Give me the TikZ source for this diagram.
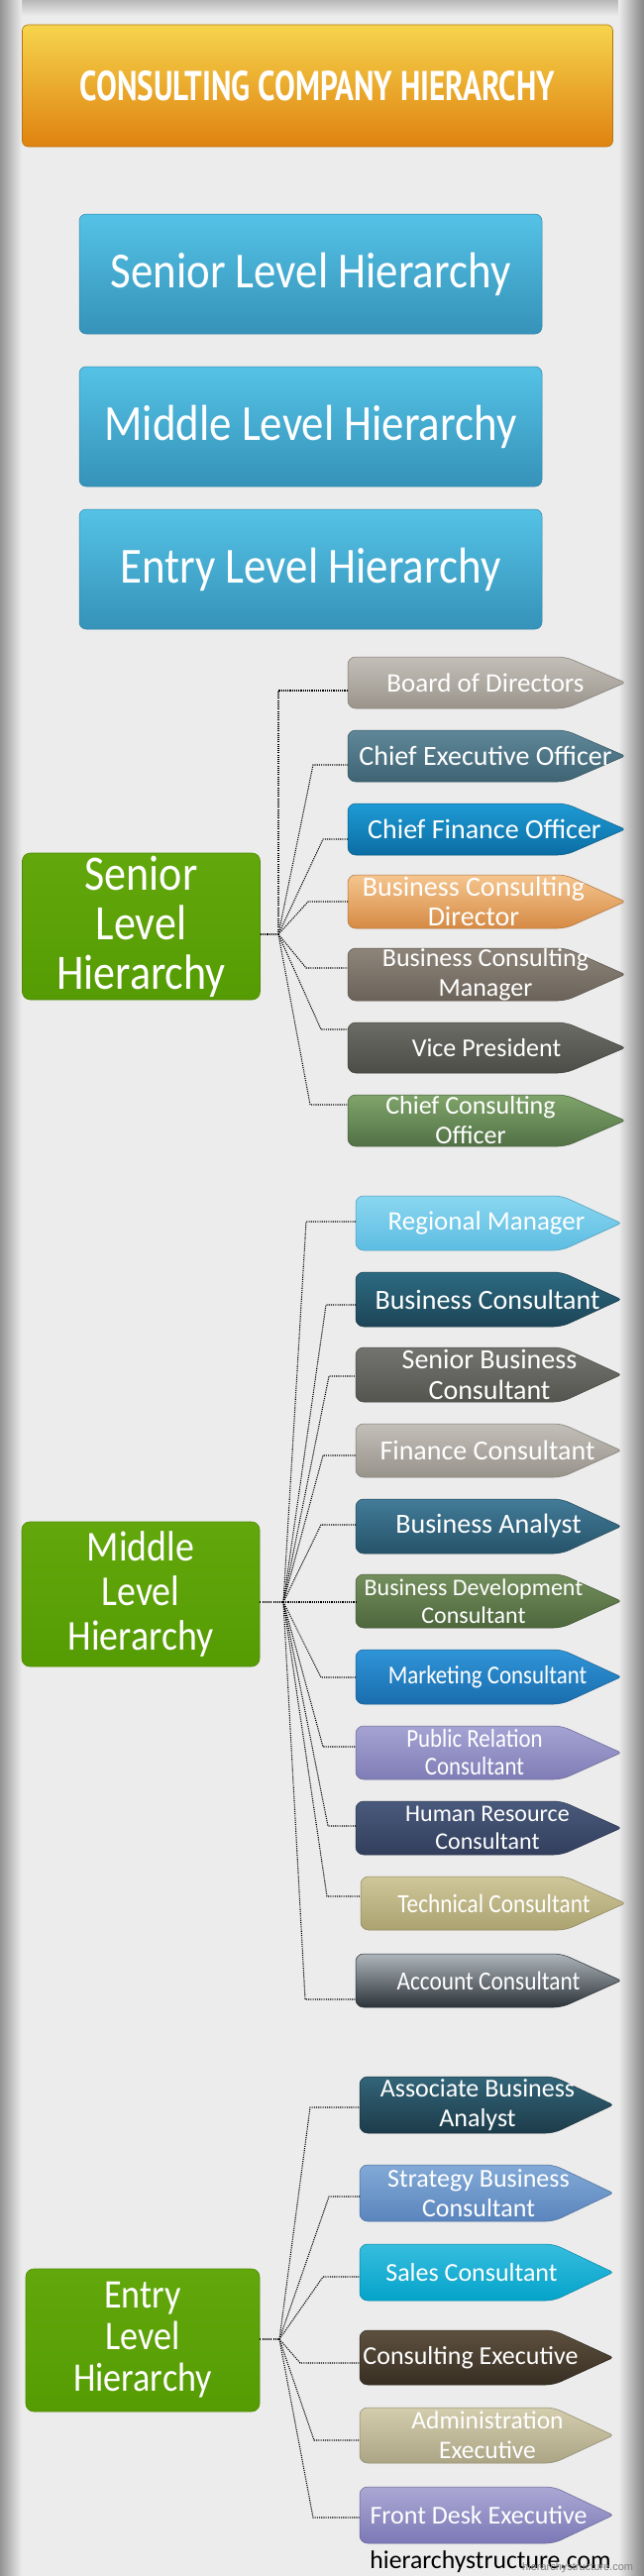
\documentclass[tikz,border=0pt]{standalone}
\usepackage{fontspec}
\usepackage{graphicx}
\setmainfont{Carlito}
\newfontfamily\condfont[FakeStretch=0.88]{Carlito}
\newfontfamily\titlefont{PT Sans}
\newfontfamily\wmfont{Liberation Sans}
\usetikzlibrary{calc}

\definecolor{bgc}{HTML}{ECECEC}
\definecolor{ttlA}{HTML}{F6D44C}\definecolor{ttlB}{HTML}{DF820F}\definecolor{ttlC}{HTML}{B57411}
\definecolor{bluA}{HTML}{54C2E6}\definecolor{bluB}{HTML}{3692B8}
\definecolor{grnA}{HTML}{62A80C}\definecolor{grnB}{HTML}{559B03}\definecolor{grnC}{HTML}{4E8A05}
% senior
\definecolor{bdA}{HTML}{C3BFB8}\definecolor{bdB}{HTML}{9A948B}
\definecolor{ceoA}{HTML}{5F8798}\definecolor{ceoB}{HTML}{3E6474}
\definecolor{cfoA}{HTML}{1E9BD5}\definecolor{cfoB}{HTML}{0B6DA3}
\definecolor{bcdA}{HTML}{F5C58E}\definecolor{bcdB}{HTML}{D68B45}
\definecolor{bcmA}{HTML}{8D857A}\definecolor{bcmB}{HTML}{6B6359}
\definecolor{vpA}{HTML}{6C6C67}\definecolor{vpB}{HTML}{4C4C48}
\definecolor{ccoA}{HTML}{7FA46A}\definecolor{ccoB}{HTML}{527146}
% middle
\definecolor{rmA}{HTML}{8AD6F0}\definecolor{rmB}{HTML}{5DBDE2}
\definecolor{bcA}{HTML}{2D6B82}\definecolor{bcB}{HTML}{1C4456}
\definecolor{sbcA}{HTML}{737370}\definecolor{sbcB}{HTML}{555550}
\definecolor{fcA}{HTML}{C2BEB8}\definecolor{fcB}{HTML}{98948C}
\definecolor{baA}{HTML}{437B98}\definecolor{baB}{HTML}{255369}
\definecolor{bdcA}{HTML}{748F5D}\definecolor{bdcB}{HTML}{4D663C}
\definecolor{mcA}{HTML}{2F95D8}\definecolor{mcB}{HTML}{1A6DAE}
\definecolor{prcA}{HTML}{A5A3D3}\definecolor{prcB}{HTML}{807CB6}
\definecolor{hrcA}{HTML}{4A5A7C}\definecolor{hrcB}{HTML}{323E5C}
\definecolor{tcA}{HTML}{CFC79A}\definecolor{tcB}{HTML}{ABA270}
\definecolor{acA}{HTML}{AEB5BB}\definecolor{acB}{HTML}{2C3339}
% entry
\definecolor{abaA}{HTML}{326478}\definecolor{abaB}{HTML}{1D3C4A}
\definecolor{esbA}{HTML}{82A9D6}\definecolor{esbB}{HTML}{5A85BD}
\definecolor{scA}{HTML}{36BDDE}\definecolor{scB}{HTML}{04A3CA}
\definecolor{ceA}{HTML}{5E503F}\definecolor{ceB}{HTML}{372E22}
\definecolor{aeA}{HTML}{D3CDAE}\definecolor{aeB}{HTML}{ABA585}
\definecolor{fdA}{HTML}{ABA8D4}\definecolor{fdB}{HTML}{7C78B6}

\newcommand\fs[2]{\fontsize{#1}{#2}\selectfont}

% #1 name, #2 left x, #3 tip x, #4 top y, #5 bottom y, #6 top colour, #7 bottom colour, #8 label options, #9 text
\newcommand\tagbox[9]{%
  \node[tagframe, minimum width={(#3-#2)*1pt}, minimum height={(#5-#4)*1pt}, anchor=north west] (#1) at (#2,#4) {};
  \shadedraw[top color=#6, bottom color=#7, draw=#7!80!black, line width=0.5pt]
    (#2,{(#4+#5)/2}) [rounded corners=8pt] -- (#2,#4) -- ({#3-60},#4)
    [rounded corners=3pt] -- (#3,{(#4+#5)/2})
    [rounded corners=8pt] -- ({#3-60},#5) -- (#2,#5) -- cycle;
  \node[lbl, #8] (#1-t) at ({(#2+#3)/2},{(#4+#5)/2}) {#9};
}
% #1 junction, #2 elbow, #3 target node
\newcommand\link[3]{\draw[dotline] (#1) -- (#2) -- (#2 -| #3.west);}

\begin{document}
\begin{tikzpicture}[x=1pt,y=-1pt,
  dotline/.style={line width=1.1pt, dash pattern=on 1.1pt off 1.1pt, draw=black},
  lvlbox/.style={rounded corners=8pt, top color=grnA, bottom color=grnB, draw=grnC, line width=0.6pt,
    text=white, align=center, inner sep=0pt, minimum width=240pt},
  bluebox/.style={rounded corners=7pt, top color=bluA, bottom color=bluB, draw=bluB!90!black, line width=0.5pt,
    text=white, inner sep=0pt, minimum width=467pt, minimum height=121pt, font=\condfont\fs{51}{55}},
  lbl/.style={text=white, align=center, inner sep=0pt},
  tagframe/.style={inner sep=0pt, outer sep=0pt}
]
\useasboundingbox (0,0) rectangle (650,2600);
% background and vignette
\fill[bgc] (0,0) rectangle (650,2600);
\shade[top color=black!28, bottom color=bgc] (0,0) rectangle (650,16);
\shade[left color=black!42, right color=bgc] (0,0) rectangle (22,2600);
\shade[left color=bgc, right color=black!48] (624,0) rectangle (650,2600);

% title
\node[rounded corners=6pt, top color=ttlA, bottom color=ttlB, draw=ttlC, line width=0.6pt,
  minimum width=596pt, minimum height=123pt, inner sep=0pt, text=white] (title) at (320.5,86.5)
  {\resizebox{479pt}{30pt}{\titlefont\bfseries CONSULTING COMPANY HIERARCHY}};

% overview boxes
\node[bluebox] (ov1) at (313.5,276.5) {Senior Level Hierarchy};
\node[bluebox] (ov2) at (313.5,430.5) {Middle Level Hierarchy};
\node[bluebox] (ov3) at (313.5,574.5) {Entry Level Hierarchy};

% level boxes
\node[lvlbox, minimum height=148pt, font=\condfont\fs{50}{50}] (sen) at (142.5,935) {Senior\\Level\\Hierarchy};
\node[lvlbox, minimum height=146pt, font=\condfont\fs{43}{45}] (mid) at (142,1609) {Middle\\Level\\Hierarchy};
\node[lvlbox, minimum width=236pt, minimum height=144pt, font=\condfont\fs{41}{42}] (ent) at (144,2362) {Entry\\Level\\Hierarchy};

% senior roles
\tagbox{s1}{351}{631}{663}{715}{bdA}{bdB}{font=\fs{27}{29}, xshift=-1pt}{Board of Directors}
\tagbox{s2}{351}{631}{737}{789}{ceoA}{ceoB}{font=\fs{28}{30}, xshift=-1pt}{Chief Executive Officer}
\tagbox{s3}{351}{631}{811}{863}{cfoA}{cfoB}{font=\fs{28}{30}, xshift=-2pt}{Chief Finance Officer}
\tagbox{s4}{351}{631}{883}{937}{bcdA}{bcdB}{font=\fs{28}{30}, xshift=-13pt}{Business Consulting\\Director}
\tagbox{s5}{351}{631}{957}{1010}{bcmA}{bcmB}{font=\fs{26}{30}, xshift=-1pt}{Business Consulting\\Manager}
\tagbox{s6}{351}{631}{1032}{1083}{vpA}{vpB}{font=\fs{26}{29}}{Vice President}
\tagbox{s7}{351}{631}{1105}{1157}{ccoA}{ccoB}{font=\fs{26}{30}, xshift=-16pt}{Chief Consulting\\Officer}

% middle roles
\tagbox{m1}{359}{627}{1207}{1262}{rmA}{rmB}{font=\fs{27}{29}, xshift=-2pt}{Regional Manager}
\tagbox{m2}{359}{627}{1284}{1339}{bcA}{bcB}{font=\fs{28}{30}, xshift=-1pt}{Business Consultant}
\tagbox{m3}{359}{627}{1360}{1415}{sbcA}{sbcB}{font=\fs{28}{31}, xshift=1pt}{Senior Business\\Consultant}
\tagbox{m4}{359}{627}{1437}{1491}{fcA}{fcB}{font=\fs{28}{30}, xshift=-1pt}{Finance Consultant}
\tagbox{m5}{359}{627}{1513}{1568}{baA}{baB}{font=\fs{28}{30}}{Business Analyst}
\tagbox{m6}{359}{627}{1589}{1643}{bdcA}{bdcB}{font=\fs{24}{28}, xshift=-15pt}{Business Development\\Consultant}
\tagbox{m7}{359}{627}{1665}{1720}{mcA}{mcB}{font=\condfont\fs{26}{29}, xshift=-1pt}{Marketing Consultant}
\tagbox{m8}{359}{627}{1742}{1796}{prcA}{prcB}{font=\condfont\fs{26}{28}, xshift=-14pt}{Public Relation\\Consultant}
\tagbox{m9}{359}{627}{1818}{1872}{hrcA}{hrcB}{font=\fs{24}{28}, xshift=-1pt}{Human Resource\\Consultant}
\tagbox{m10}{364}{631}{1894}{1948}{tcA}{tcB}{font=\condfont\fs{26.5}{29}, xshift=1pt}{Technical Consultant}
\tagbox{m11}{359}{627}{1972}{2026}{acA}{acB}{font=\condfont\fs{26.5}{29}}{Account Consultant}

% entry roles
\tagbox{e1}{363}{619}{2096}{2153}{abaA}{abaB}{font=\fs{26}{30}, xshift=-9pt}{Associate Business\\Analyst}
\tagbox{e2}{363}{619}{2185}{2242}{esbA}{esbB}{font=\fs{26}{30}, xshift=-8pt}{Strategy Business\\Consultant}
\tagbox{e3}{363}{619}{2265}{2322}{scA}{scB}{font=\fs{26}{30}, xshift=-15pt}{Sales Consultant}
\tagbox{e4}{363}{619}{2352}{2407}{ceA}{ceB}{font=\fs{26}{30}, xshift=-16pt}{Consulting Executive}
\tagbox{e5}{363}{619}{2430}{2486}{aeA}{aeB}{font=\fs{25.5}{30}, xshift=1pt}{Administration\\Executive}
\tagbox{e6}{363}{619}{2510}{2567}{fdA}{fdB}{font=\fs{26}{30}, xshift=-8pt}{Front Desk Executive}

% connectors: senior
\coordinate (sj) at (281,943);
\coordinate (se1) at (281,697);
\coordinate (se2) at (316,772);
\coordinate (se3) at (326,847);
\coordinate (se4) at (311,910);
\coordinate (se5) at (309,977);
\coordinate (se6) at (324,1039);
\coordinate (se7) at (313,1115);
\draw[dotline] (sen.east |- sj) -- (sj);
\link{sj}{se1}{s1}\link{sj}{se2}{s2}\link{sj}{se3}{s3}\link{sj}{se4}{s4}
\link{sj}{se5}{s5}\link{sj}{se6}{s6}\link{sj}{se7}{s7}

% connectors: middle
\coordinate (mj) at (286,1617);
\coordinate (me1) at (309,1233);
\coordinate (me2) at (329,1317);
\coordinate (me3) at (332,1389);
\coordinate (me4) at (326,1469);
\coordinate (me5) at (324,1539);
\coordinate (me7) at (324,1693);
\coordinate (me8) at (326,1763);
\coordinate (me9) at (331,1843);
\coordinate (me10) at (330,1914);
\coordinate (me11) at (308,2018);
\draw[dotline] (mid.east |- mj) -- (mj);
\link{mj}{me1}{m1}\link{mj}{me2}{m2}\link{mj}{me3}{m3}\link{mj}{me4}{m4}\link{mj}{me5}{m5}
\draw[dotline] (mj) -- (mj -| m6.west);
\link{mj}{me7}{m7}\link{mj}{me8}{m8}\link{mj}{me9}{m9}\link{mj}{me10}{m10}\link{mj}{me11}{m11}

% connectors: entry
\coordinate (ej) at (282,2361);
\coordinate (ee1) at (313,2127);
\coordinate (ee2) at (332,2217);
\coordinate (ee3) at (326,2298);
\coordinate (ee4) at (303,2385);
\coordinate (ee5) at (317,2463);
\coordinate (ee6) at (316,2541);
\draw[dotline] (ent.east |- ej) -- (ej);
\link{ej}{ee1}{e1}\link{ej}{ee2}{e2}\link{ej}{ee3}{e3}\link{ej}{ee4}{e4}\link{ej}{ee5}{e5}\link{ej}{ee6}{e6}

% footer
\node[anchor=base, inner sep=0pt, font=\fs{25.7}{28}] (site) at (495,2592) {hierarchystructure.com};
\node[anchor=base west, inner sep=0pt, text=black!50, font=\wmfont\fs{11}{12}] (wm) at (527,2594) {hierarchystructure.com};
\end{tikzpicture}
\end{document}
